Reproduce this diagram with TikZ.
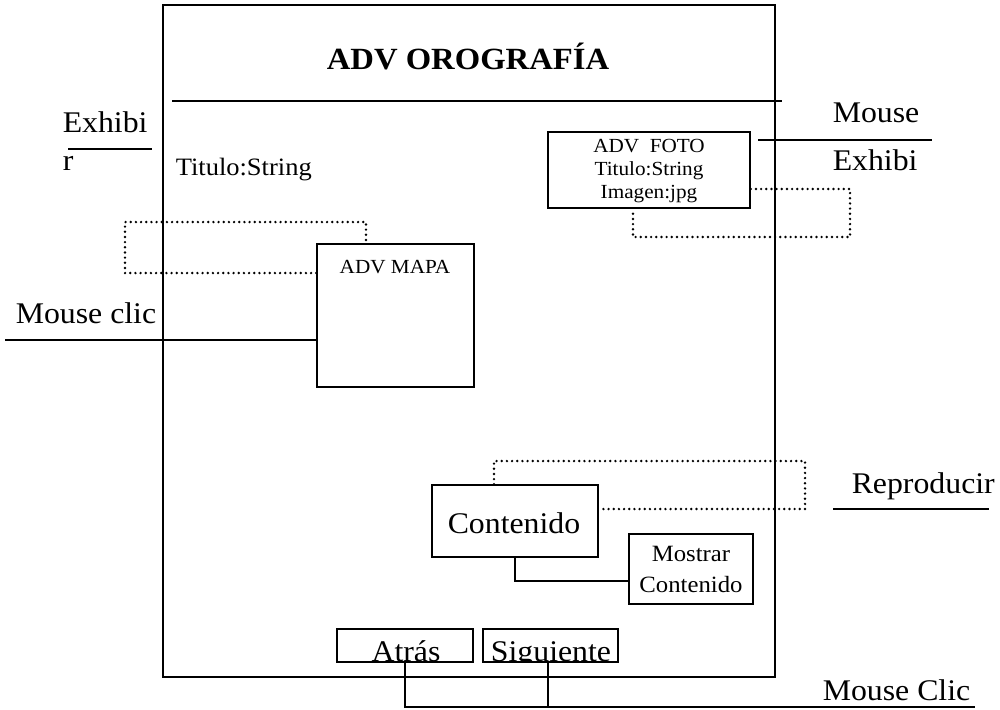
\documentclass[tikz,border=0pt]{standalone}
\usepackage{fontspec}
\setmainfont{Liberation Serif}[FakeStretch=1.06]
\usetikzlibrary{fit}
\begin{document}
\begin{tikzpicture}[x=0.6pt,y=-0.6pt,
  line width=0.9pt,
  frame/.style={draw, inner sep=0pt},
  dotline/.style={line width=1.6pt, dash pattern=on 0pt off 3.1pt, line cap=round},
  big/.style={font=\fontsize{18}{22}\selectfont, inner sep=0pt},
  mid/.style={font=\fontsize{14}{17}\selectfont, inner sep=0pt},
  small/.style={font=\fontsize{12}{14}\selectfont, inner sep=0pt},
]
\useasboundingbox (0,0) rectangle (1000,709);

% main window and its header
\node[frame, fit={(163,5) (775,677)}] (win) {};
\node[font=\bfseries\fontsize{18.5}{22}\selectfont, anchor=base, inner sep=0pt] (title) at (468,69) {ADV OROGRAFÍA};
\coordinate (tl1) at (172,101);
\coordinate (tl2) at (782,101);
\draw (tl1) -- (tl2);

% event label on the left
\node[big, anchor=base west] (exh1) at (62,132) {Exhibi};
\node[big, anchor=base west] (exh2) at (62,170) {r};
\coordinate (el1) at (68,149);
\coordinate (el2) at (152,149);
\draw (el1) -- (el2);

\node[font=\fontsize{15}{18}\selectfont, anchor=base west, inner sep=0pt] (tit) at (175,175) {Titulo:String};

% map component
\node[frame, fit={(317,244) (474,387)}] (mapa) {};
\node[small, anchor=base] (mapat) at (395,273) {ADV MAPA};
\coordinate (md1) at (125,273);
\coordinate (md2) at (125,222);
\coordinate (md3) at (366,222);
\draw[dotline] (mapa.west |- md1) -- (md1) -- (md2) -- (md3) -- (md3 |- mapa.north);

\node[big, anchor=base west] (mc) at (15,323) {Mouse clic};
\coordinate (mcl) at (5,340);
\draw (mcl) -- (mapa.west |- mcl);

% photo component
\node[frame, fit={(548,132) (750,208)}] (foto) {};
\node[small, anchor=base] (foto1) at (649,152) {ADV\ \ FOTO};
\node[small, anchor=base] (foto2) at (649,175) {Titulo:String};
\node[small, anchor=base] (foto3) at (649,198) {Imagen:jpg};
\coordinate (fd1) at (850,189);
\coordinate (fd2) at (850,237);
\coordinate (fd3) at (633,237);
\draw[dotline] (foto.east |- fd1) -- (fd1) -- (fd2) -- (fd3) -- (fd3 |- foto.south);

\coordinate (ml1) at (758,140);
\coordinate (ml2) at (932,140);
\draw (ml1) -- (ml2);
\node[big, anchor=base west] (mouse) at (832,122) {Mouse};
\node[big, anchor=base west] (exh3) at (832,170) {Exhibi};

% content component
\node[frame, fit={(432,485) (598,557)}] (cont) {};
\node[font=\fontsize{18}{22}\selectfont, anchor=base, inner sep=0pt] (contt) at (514,533) {Contenido};
\coordinate (cd1) at (494,461);
\coordinate (cd2) at (805,461);
\coordinate (cd3) at (805,509);
\draw[dotline] (cont.north -| cd1) -- (cd1) -- (cd2) -- (cd3) -- (cont.east |- cd3);

\node[big, anchor=base west] (rep) at (851,493) {Reproducir};
\coordinate (rl1) at (833,509);
\coordinate (rl2) at (989,509);
\draw (rl1) -- (rl2);

\node[frame, fit={(629,534) (753,604)}] (most) {};
\node[mid, anchor=base] (most1) at (691,561) {Mostrar};
\node[mid, anchor=base] (most2) at (691,592) {Contenido};
\coordinate (cm) at (515,581);
\draw (cont.south -| cm) -- (cm) -- (most.west |- cm);

% navigation buttons
\node[frame, fit={(337,629) (473,662)}] (atras) {};
\node[frame, fit={(483,629) (618,662)}] (sig) {};
\begin{scope}
  \clip (atras.south west) rectangle (atras.north east);
  \node[big, anchor=base] (atrast) at (406,661) {Atrás};
\end{scope}
\begin{scope}
  \clip (sig.south west) rectangle (sig.north east);
  \node[big, anchor=base] (sigt) at (551,661) {Siguiente};
\end{scope}
\coordinate (b1) at (405,707);
\coordinate (b2) at (548,707);
\coordinate (b3) at (975,707);
\draw (atras.south -| b1) -- (b1) -- (b3);
\draw (sig.south -| b2) -- (b2);
\node[big, anchor=base west] (mclic) at (822,700) {Mouse Clic};
\end{tikzpicture}
\end{document}
